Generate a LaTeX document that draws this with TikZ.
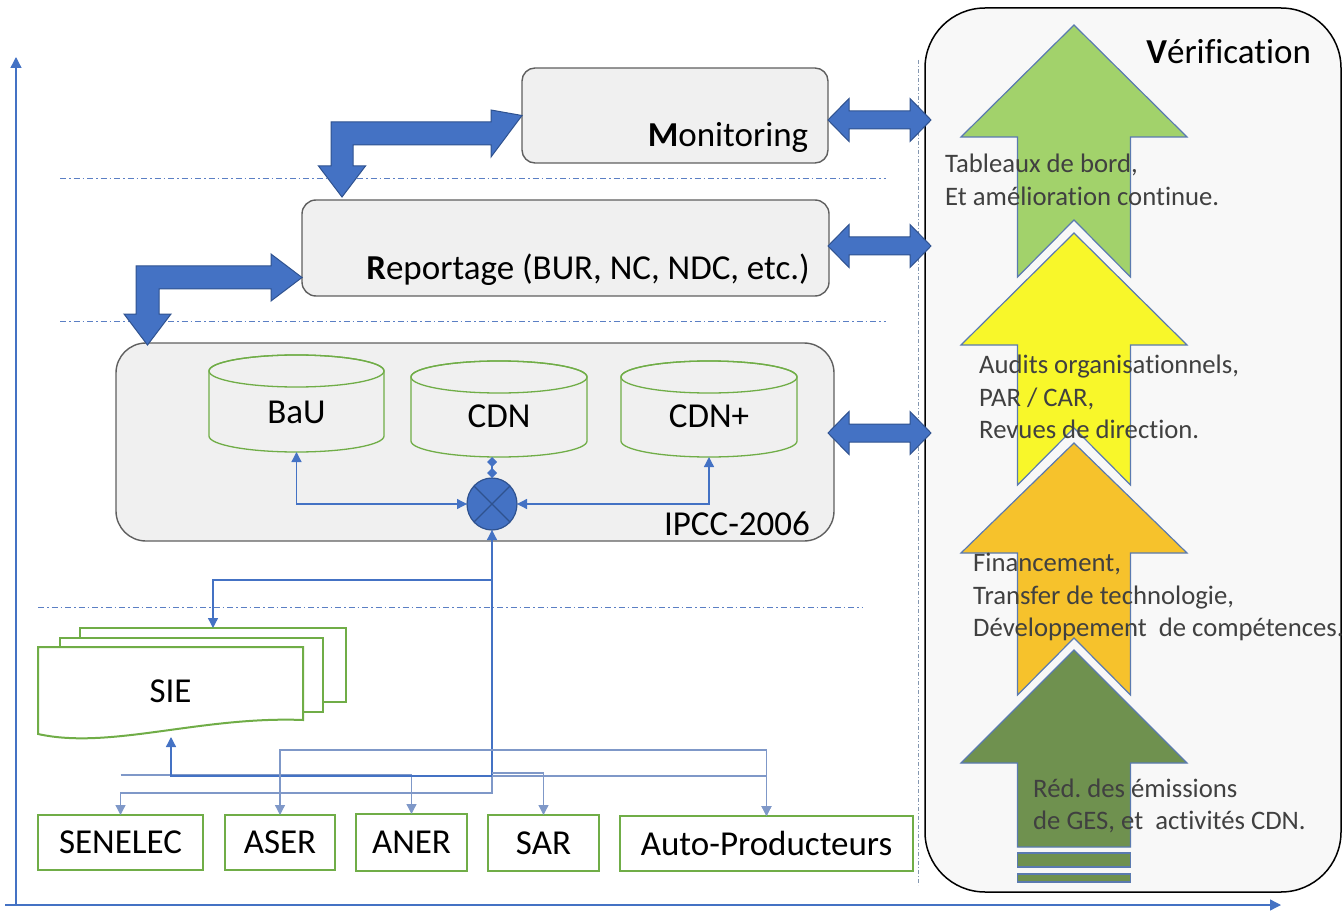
\documentclass[tikz,border=0pt]{standalone}
\usepackage{fontspec}
\setmainfont{Carlito}[Ligatures=CommonOff]
\usetikzlibrary{arrows.meta,shapes.geometric}
\definecolor{bl}{HTML}{4472C4}
\definecolor{bldark}{HTML}{2F528F}
\definecolor{blgrey}{HTML}{7F98C8}
\definecolor{boxfill}{HTML}{F0F0F0}
\definecolor{boxline}{HTML}{5F5F5F}
\definecolor{gr}{HTML}{70AD47}
\definecolor{panelfill}{HTML}{F8F8F8}
\definecolor{txtgrey}{HTML}{404040}
\definecolor{chevline}{HTML}{5A7AB0}
\definecolor{cgreen}{HTML}{A2D26B}
\definecolor{cyellow}{HTML}{F8F72A}
\definecolor{corange}{HTML}{F6C22C}
\definecolor{cdark}{HTML}{6F914F}
\definecolor{sepcol}{HTML}{5B7FC4}
\definecolor{vsepcol}{HTML}{8497B0}
\frenchspacing
\newcommand\mychev[5]{\filldraw[fill=#5, draw=chevline, line width=1.2pt, line join=miter]
  (1074,#1) -- (1187,#2) -- (1130.5,#2) -- (1130.5,#3) -- (1074,#4) -- (1017.5,#3) -- (1017.5,#2) -- (961,#2) -- cycle;}
\newcommand\mydbl[1]{\filldraw[blockarrow]
  (828,#1) -- (849,#1-21.5) -- (849,#1-9) -- (910,#1-9) -- (910,#1-21.5) -- (931,#1)
  -- (910,#1+21.5) -- (910,#1+9) -- (849,#1+9) -- (849,#1+21.5) -- cycle;}
\begin{document}
\begin{tikzpicture}[x=1pt,y=-1pt,
  font=\fontsize{35}{42}\selectfont,
  mainbox/.style={draw=boxline, fill=boxfill, line width=1.4pt, rounded corners=13pt, inner sep=0pt, outer sep=0pt},
  inv/.style={inner sep=0pt, outer sep=0pt},
  greenbox/.style={draw=gr, line width=2pt, fill=white, inner sep=0pt, outer sep=0pt},
  cyl/.style={draw=gr, line width=1.3pt, fill=boxfill},
  conn/.style={draw=bl, line width=1.3pt, -{Triangle[width=10pt,length=10pt]}},
  conn2/.style={draw=blgrey, line width=1.3pt, -{Triangle[width=10pt,length=10pt]}},
  sepline/.style={draw=sepcol, line width=0.9pt, dash pattern=on 6pt off 3pt on 1.5pt off 3pt},
  vsep/.style={draw=vsepcol, line width=1pt, dash pattern=on 4pt off 2pt on 1pt off 2pt},
  axis/.style={draw=bl, line width=1.3pt, -{Triangle[width=11pt,length=11pt]}},
  blockarrow/.style={fill=bl, draw=bldark, line width=1pt, line join=miter},
  paneltxt/.style={inner sep=0pt, anchor=west, align=left, text=txtgrey, font=\fontsize{26.7}{32.5}\selectfont}
]
\useasboundingbox (0,0) rectangle (1342,912);

% axes
\draw[axis] (16,905) -- (16,57);
\draw[axis] (5,905) -- (1281,905);

% separators
\draw[sepline] (60,178) -- (886,178);
\draw[sepline] (60,321) -- (886,321);
\draw[sepline] (38,607) -- (862,607);
\draw[vsep] (918,60) -- (918,885);

% right panel
\node[draw=black, fill=panelfill, line width=1.5pt, rounded corners=60pt, minimum width=416pt, minimum height=884pt, inner sep=0pt] (verif) at (1133,450) {};
\mychev{650}{763}{847}{847}{cdark}
\filldraw[fill=cdark, draw=chevline, line width=1.2pt] (1017.5,853) rectangle (1130.5,867);
\filldraw[fill=cdark, draw=chevline, line width=1.2pt] (1017.5,874) rectangle (1130.5,882);
\mychev{443}{553}{695}{638}{corange}
\mychev{233}{345}{485}{428}{cyellow}
\mychev{25}{137}{277}{220}{cgreen}
\node[inv, anchor=east] (veriftxt) at (1311,52) {\textbf{V}érification};
\node[paneltxt] (t1) at (945,180) {Tableaux de bord,\\Et amélioration continue.};
\node[paneltxt] (t2) at (979,397) {Audits organisationnels,\\PAR / CAR,\\Revues de direction.};
\node[paneltxt] (t3) at (973,597) {Financement,\\Transfer de technologie,\\Développement\ \ de compétences.};
\node[paneltxt] (t4) at (1033,806) {Réd. des émissions\\de GES, et\ \ activités CDN.};

% main boxes
\node[mainbox, minimum width=306pt, minimum height=95pt] (mon) at (675,115.5) {};
\node[inv] (montxt) at (728,137) {\textbf{M}onitoring};
\node[mainbox, rounded corners=14pt, minimum width=527pt, minimum height=96pt] (rep) at (565.5,248) {};
\node[inv] (reptxt) at (588,270) {\textbf{R}eportage (BUR, NC, NDC, etc.)};
\node[mainbox, rounded corners=30pt, minimum width=718pt, minimum height=198pt] (ipcc) at (475,442) {};
\node[inv] (ipcctxt) at (737,524) {IPCC-2006};

% bent block arrows
\filldraw[blockarrow] (331,122) -- (491,122) -- (491,110) -- (mon.west) -- (491,157) -- (491,145) -- (353,145) -- (353,166) -- (365.5,166) -- (342,197) -- (318.5,166) -- (331,166) -- cycle;
\filldraw[blockarrow] (136,266) -- (271,266) -- (271,254) -- (302,277.5) -- (271,301) -- (271,289) -- (159,289) -- (159,314) -- (171,314) -- (147.5,345) -- (124,314) -- (136,314) -- cycle;

% double arrows
\mydbl{120}
\mydbl{246}
\mydbl{433}

% cylinders
\foreach \nm/\xa/\xb/\ya/\yb/\lab/\ty in {bau/209/384/355/452/BaU/412, cdn/411/587/361/457/CDN/416, cdnp/621/797/361/457/CDN+/416}{
  \pgfmathsetmacro{\cx}{(\xa+\xb)/2}
  \pgfmathsetmacro{\rx}{(\xb-\xa)/2}
  \pgfmathsetmacro{\cy}{(\ya+\yb)/2}
  \pgfmathsetmacro{\hh}{\yb-\ya}
  \pgfmathsetmacro{\ww}{\xb-\xa}
  \filldraw[cyl] (\xa,\ya+16) -- (\xa,\yb-16) arc[start angle=180, end angle=360, x radius=\rx pt, y radius=16pt] -- (\xb,\ya+16) arc[start angle=0, end angle=180, x radius=\rx pt, y radius=16pt] -- cycle;
  \draw[cyl, fill=none] (\cx,\ya+16) ellipse[x radius=\rx pt, y radius=16pt];
  \node[inv, minimum width=\ww pt, minimum height=\hh pt] (\nm) at (\cx,\cy) {};
  \node[inv] at (\cx,\ty) {\lab};
}

% cross
\node[ellipse, fill=bl, draw=bldark, line width=1.2pt, minimum width=50pt, minimum height=52pt, inner sep=0pt, outer sep=0pt] (cross) at (492,504) {};
\draw[bldark, line width=1.2pt] (cross.45) -- (cross.225) (cross.135) -- (cross.315);

\draw[conn, {Triangle[width=10pt,length=10pt]}-{Triangle[width=10pt,length=10pt]}] (bau.south) -- (bau.south |- cross.west) -- (cross.west);
\draw[conn, {Triangle[width=10pt,length=10pt]}-{Triangle[width=10pt,length=10pt]}] (cdnp.south) -- (cdnp.south |- cross.east) -- (cross.east);
\draw[draw=bl, line width=1.3pt, {Diamond[width=10pt,length=10pt]}-{Diamond[width=10pt,length=10pt]}] (cross.north |- cdn.south) -- (cross.north);

% SIE stacked documents
\filldraw[draw=gr, fill=white, line width=2pt] (80,628) rectangle (346,702);
\filldraw[draw=gr, fill=white, line width=2pt] (60,638) rectangle (323,712);
\filldraw[draw=gr, fill=white, line width=2pt] (38,647) -- (303,647) -- (303,720) .. controls (200,716) and (110,750) .. (38,734) -- cycle;
\node[inv, minimum width=265pt, minimum height=88pt] (sie) at (170.5,691) {SIE};
\node[inv, minimum width=266pt, minimum height=74pt] (sieback) at (213,665) {};
\coordinate (siebot) at (171,737);

% bottom boxes
\node[greenbox, minimum width=165pt, minimum height=55pt] (senelec) at (120.5,842.5) {SENELEC};
\node[greenbox, minimum width=110pt, minimum height=55pt] (aser) at (280,842.5) {ASER};
\node[greenbox, minimum width=111pt, minimum height=57pt] (aner) at (411.5,842.5) {ANER};
\node[greenbox, minimum width=111pt, minimum height=56pt] (sar) at (543.5,843) {SAR};
\node[greenbox, minimum width=293pt, minimum height=55pt] (auto) at (766.5,843.5) {Auto-Producteurs};

% connectors
\coordinate (hub) at (492,776);
\draw[conn] (hub) -- (cross.south);
\draw[conn] (hub |- 0,580) -| (sieback.north);
\draw[conn2] (hub) -- (hub |- 0,793) -| (senelec.north);
\draw[conn2] (senelec.north |- 0,775) -| (aner.north);
\draw[conn] (hub) -| (siebot);
\draw[conn2] (hub) -| (auto.north);
\draw[conn2] (hub |- 0,773) -| (sar.north);
\draw[conn2, {Triangle[width=10pt,length=10pt]}-{Triangle[width=10pt,length=10pt]}] (aser.north) -- (aser.north |- 0,750) -| (auto.north);
\end{tikzpicture}
\end{document}
